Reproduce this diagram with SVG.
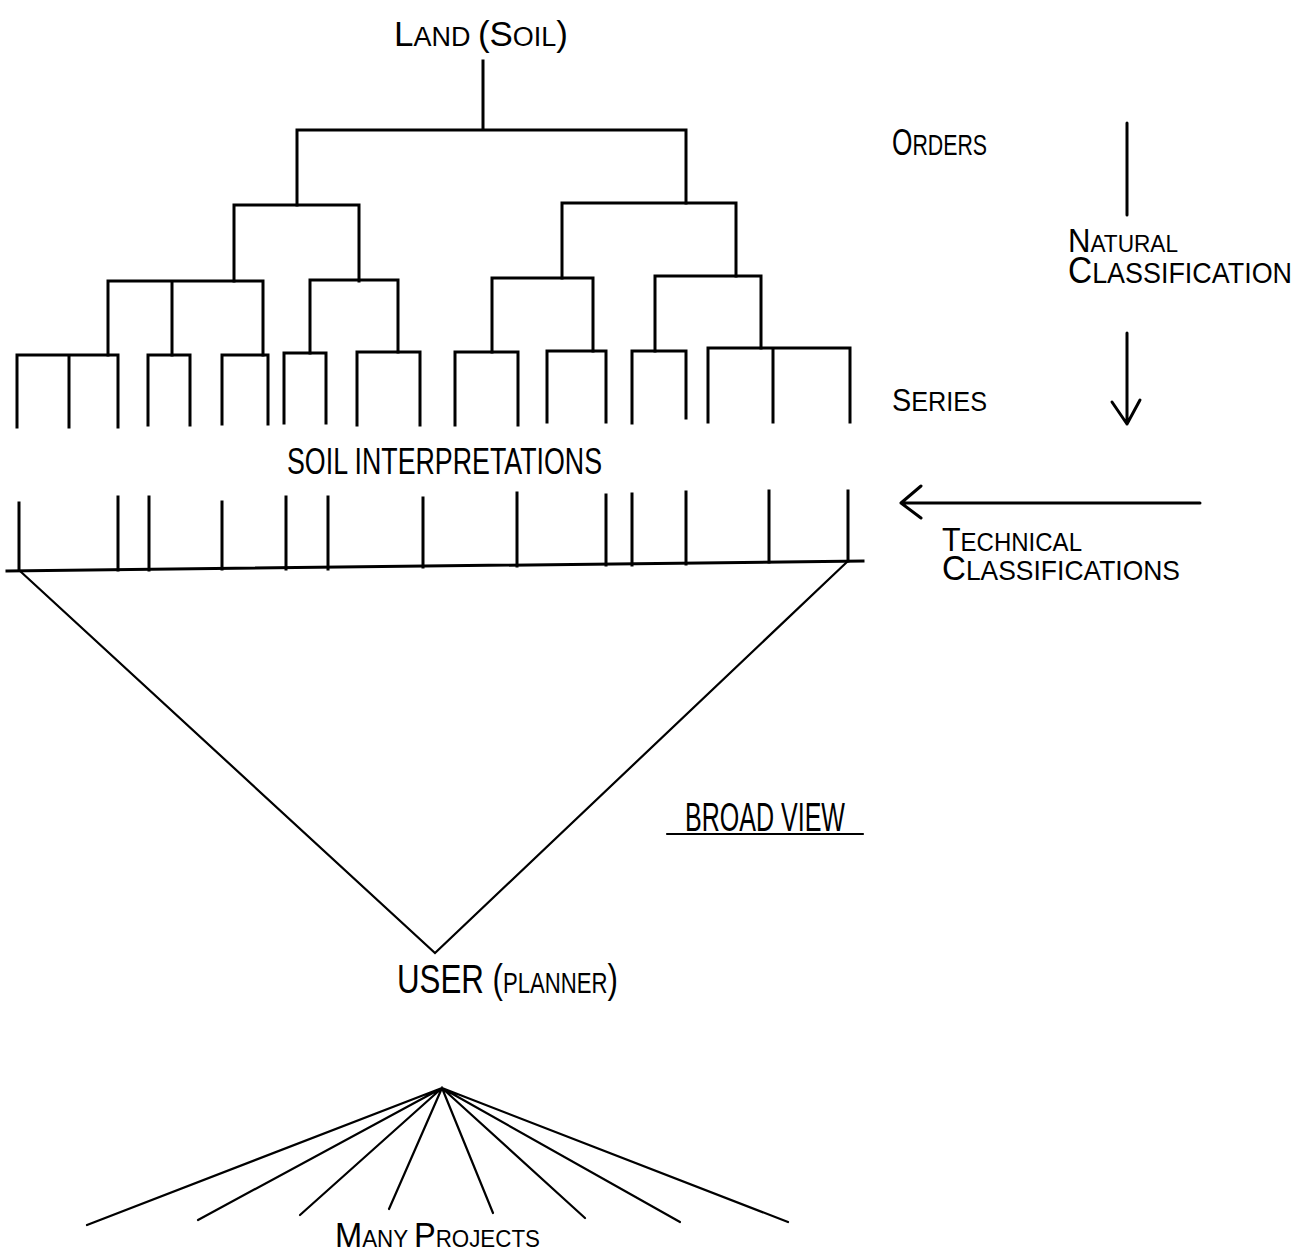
<svg xmlns="http://www.w3.org/2000/svg" width="1311" height="1258" viewBox="0 0 1311 1258">
<style>
.t{font-family:"Liberation Sans Narrow","Liberation Sans",Arial,sans-serif;fill:#000}
.tree{stroke:#000;stroke-width:3;fill:none;stroke-linecap:square}
.thin{stroke:#000;stroke-width:2.2;fill:none;stroke-linecap:round}
.arr{stroke:#000;stroke-width:3;fill:none;stroke-linecap:round;stroke-linejoin:round}
</style>
<rect width="1311" height="1258" fill="#fff"/>
<g id="connectors">
<g id="tree" class="tree">
<path d="M483 61V130M297 130H686M297 130V205M686 130V203"/>
<path d="M234 205H359M234 205V281M359 205V281"/>
<path d="M108 281H263M108 281V355M172 281V355M263 281V355"/>
<path d="M17 355H118M17 355V427M69 355V427M118 355V427"/>
<path d="M148 355H190M148 355V425M190 355V425"/>
<path d="M222 355H268M222 355V424M268 355V424"/>
<path d="M310 280H398M310 280V353M398 280V352"/>
<path d="M284 353H326M284 353V423M326 353V423"/>
<path d="M357 352H420M357 352V425M420 352V425"/>
<path d="M562 203H736M562 203V278M736 203V276"/>
<path d="M492 278H593M492 278V352M593 278V351"/>
<path d="M455 352H518M455 352V425M518 352V425"/>
<path d="M547 351H606M547 351V422M606 351V422"/>
<path d="M655 276H761M655 276V351M761 276V348"/>
<path d="M632 351H686M632 351V423M686 351V418"/>
<path d="M708 348H850M708 348V422M773 348V422M850 348V422"/>
</g>
<g id="interpretations" class="tree">
<path d="M19 503V570M118 497V570M149 497V570M222 502V569M286 497V569M328 497V569M423 498V567M517 493V566M606 495V565M632 494V565M686 492V564M769 491V562M848 491V561"/>
<path d="M7 571L863 561"/>
</g>
<path id="broad-view-triangle" class="thin" d="M20 571L435 953L848 561"/>
<g id="fan" class="thin" stroke-width="2.6">
<path d="M442 1088L87 1225M442 1088L198 1220M442 1088L300 1215M442 1088L389 1209M442 1088L493 1213M442 1088L585 1218M442 1088L680 1222M442 1088L788 1222"/>
</g>
<g id="natural-arrow" class="arr">
<path d="M1127 123V215"/>
<path d="M1127 333V424M1112 402L1127 424L1140 400"/>
</g>
<g id="technical-arrow" class="arr">
<path d="M1200 503H901M921 486L901 503L921 518"/>
</g>
<path id="broad-view-underline" class="thin" d="M667 834H863"/>
</g>
<g id="land-soil"><text class="t" x="394" y="46" textLength="174" lengthAdjust="spacingAndGlyphs"><tspan font-size="35">L</tspan><tspan font-size="27">AND </tspan><tspan font-size="35">(S</tspan><tspan font-size="27">OIL</tspan><tspan font-size="35">)</tspan></text></g>
<g id="orders"><text class="t" x="892" y="155" textLength="95" lengthAdjust="spacingAndGlyphs"><tspan font-size="37">O</tspan><tspan font-size="30">RDERS</tspan></text></g>
<g id="natural-classification">
<text class="t"><tspan x="1068" y="252" textLength="110" lengthAdjust="spacingAndGlyphs"><tspan font-size="33">N</tspan><tspan font-size="24">ATURAL</tspan></tspan><tspan x="1068" y="283" textLength="224" lengthAdjust="spacingAndGlyphs"><tspan font-size="36">C</tspan><tspan font-size="29">LASSIFICATION</tspan></tspan></text>
</g>
<g id="series"><text class="t" x="892" y="411" textLength="95" lengthAdjust="spacingAndGlyphs"><tspan font-size="32">S</tspan><tspan font-size="28">ERIES</tspan></text></g>
<g id="soil-interpretations"><text class="t" x="287" y="474" font-size="37" textLength="315" lengthAdjust="spacingAndGlyphs">SOIL INTERPRETATIONS</text></g>
<g id="technical-classifications">
<text class="t"><tspan x="942" y="551" textLength="140" lengthAdjust="spacingAndGlyphs"><tspan font-size="33">T</tspan><tspan font-size="26">ECHNICAL</tspan></tspan><tspan x="942" y="580" textLength="238" lengthAdjust="spacingAndGlyphs"><tspan font-size="35">C</tspan><tspan font-size="28">LASSIFICATIONS</tspan></tspan></text>
</g>
<g id="broad-view"><text class="t" x="685" y="831" font-size="40" textLength="160" lengthAdjust="spacingAndGlyphs">BROAD VIEW</text></g>
<g id="user-planner"><text class="t" x="397" y="993" textLength="221" lengthAdjust="spacingAndGlyphs"><tspan font-size="41">USER (</tspan><tspan font-size="29">PLANNER</tspan><tspan font-size="41">)</tspan></text></g>
<g id="many-projects"><text class="t" x="335" y="1247" textLength="205" lengthAdjust="spacingAndGlyphs"><tspan font-size="35">M</tspan><tspan font-size="24">ANY </tspan><tspan font-size="35">P</tspan><tspan font-size="24">ROJECTS</tspan></text></g>
</svg>
